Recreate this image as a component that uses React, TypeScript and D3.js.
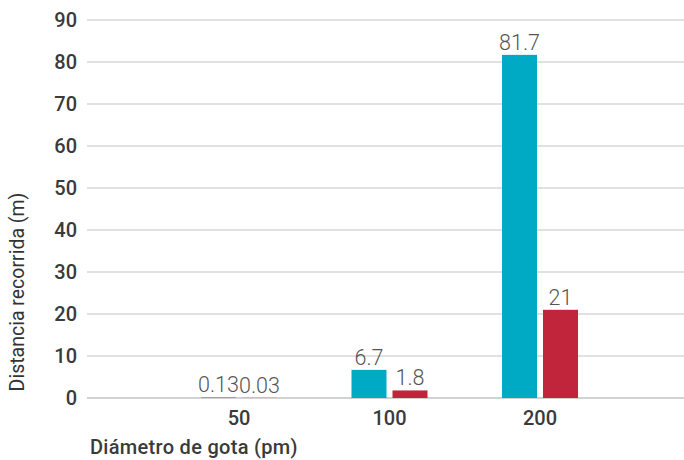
import React from "react";
import * as d3 from "d3";

const categories = ["50", "100", "200"];
const seriesA = [0.13, 6.7, 81.7];
const seriesB = [0.03, 1.8, 21];
const labelsA = ["0.13", "6.7", "81.7"];
const labelsB = ["0.03", "1.8", "21"];
const yTicks = [0, 10, 20, 30, 40, 50, 60, 70, 80, 90];

const W = 684;
const H = 460;
const FONT = "Roboto, 'Liberation Sans', Arial, sans-serif";

export default function App() {
  const x = d3.scaleBand<string>().domain(categories).range([87, 692]).paddingInner(0).paddingOuter(0.51);
  const y = d3.scaleLinear().domain([0, 90]).range([398, 20]);
  const barW = 35;
  const gap = 3;
  const cx = (c: string) => (x(c) as number) + x.bandwidth() / 2;

  return (
    <svg width={W} height={H} style={{ position: "absolute", left: 0, top: 0, background: "#fff" }} fontFamily={FONT}>
      {yTicks.map((t) => (
        <g key={t}>
          <line x1={87} x2={W} y1={y(t)} y2={y(t)} stroke={t === 0 ? "#a6a6a6" : "#c4c4c4"} strokeWidth={1.2} />
          <text x={77} y={y(t)} dy="0.36em" textAnchor="end" fontSize={20} fontWeight={500} fill="#3a3a3a">
            {t}
          </text>
        </g>
      ))}
      {categories.map((c, i) => (
        <g key={c}>
          <rect x={cx(c) - gap - barW} y={y(seriesA[i])} width={barW} height={y(0) - y(seriesA[i])} fill="#00aac4" />
          <rect x={cx(c) + gap} y={y(seriesB[i])} width={barW} height={y(0) - y(seriesB[i])} fill="#c0253b" />
          <text x={cx(c) - gap - barW / 2} y={y(seriesA[i]) - 5} textAnchor="middle" fontSize={21.5} fontWeight={300} fill="#555">
            {labelsA[i]}
          </text>
          <text x={cx(c) + gap + barW / 2} y={y(seriesB[i]) - 5} textAnchor="middle" fontSize={21.5} fontWeight={300} fill="#555">
            {labelsB[i]}
          </text>
          <text x={cx(c)} y={425} textAnchor="middle" fontSize={20} fontWeight={500} fill="#3a3a3a">
            {c}
          </text>
        </g>
      ))}
      <text x={90} y={454} fontSize={20} fontWeight={500} fill="#3a3a3a" letterSpacing={0.3}>
        Diámetro de gota (pm)
      </text>
      <text transform={`translate(24, 292) rotate(-90)`} textAnchor="middle" fontSize={19.5} fontWeight={400} fill="#333">
        Distancia recorrida (m)
      </text>
    </svg>
  );
}
